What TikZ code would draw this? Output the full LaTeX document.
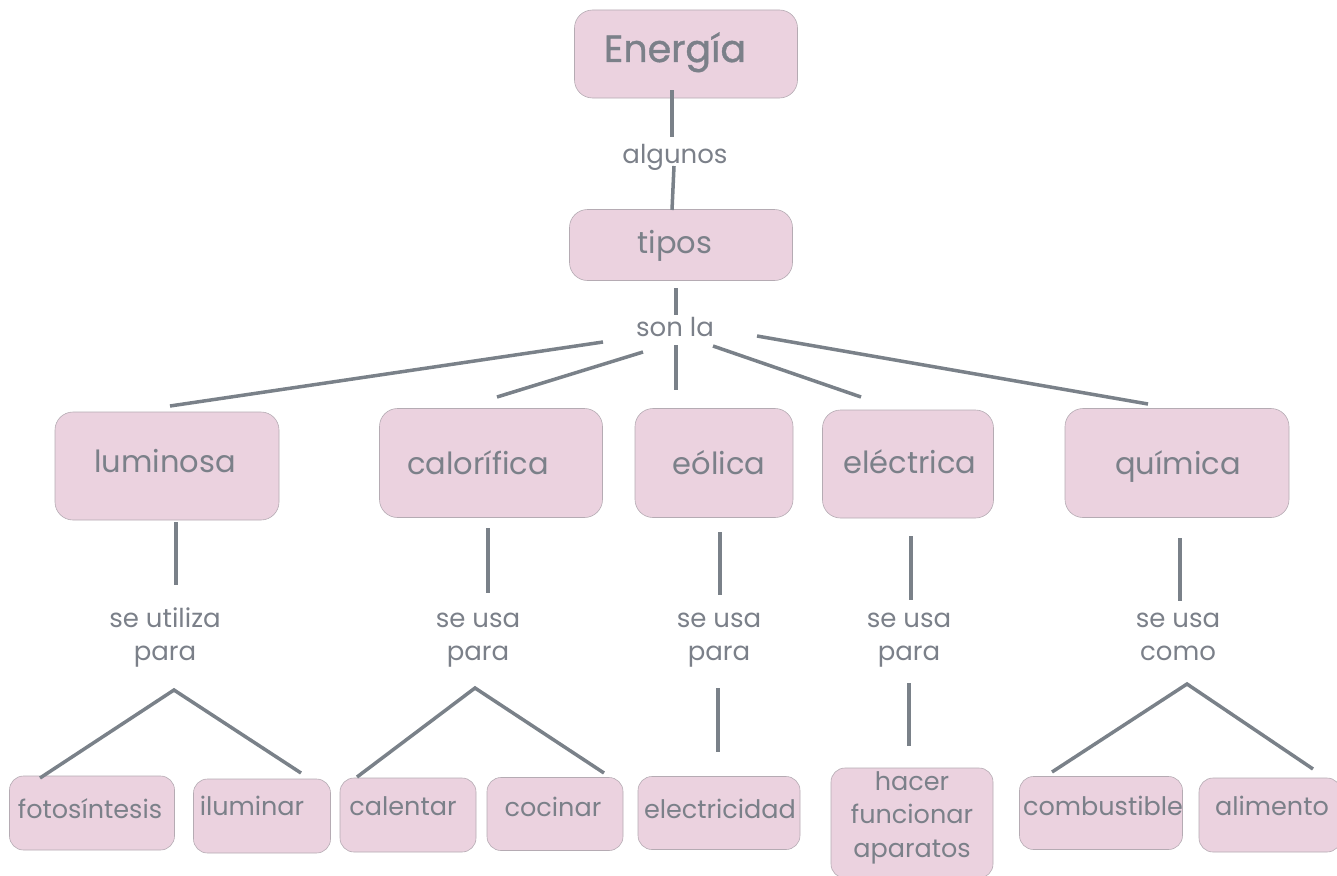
\documentclass[tikz,border=0pt]{standalone}
\usepackage{fontspec}
\setmainfont{Poppins}
\newfontfamily\titlefont[FakeBold=1]{Poppins}
\definecolor{boxfill}{HTML}{EBD2DF}
\definecolor{boxline}{HTML}{B5ABB3}
\definecolor{txt}{HTML}{7B8089}
\definecolor{ln}{HTML}{7A8189}
\begin{document}
\begin{tikzpicture}[x=1pt,y=-1pt,
 box/.style={draw=boxline, line width=0.6pt, fill=boxfill, rounded corners=18pt, inner sep=0pt},
 sbox/.style={box, rounded corners=14pt},
 btext/.style={text=txt, font=\fontsize{30.5}{36}\selectfont, inner sep=0pt, anchor=base, align=center},
 ltext/.style={text=txt, font=\fontsize{26}{33}\selectfont, inner sep=0pt, anchor=base, align=center},
 stext/.style={text=txt, font=\fontsize{25.5}{33.5}\selectfont, inner sep=0pt, anchor=base, align=center},
 conn/.style={draw=ln, line width=3.5pt}]
\useasboundingbox (0,0) rectangle (1337,875);

% boxes
\node[box, minimum width=223pt, minimum height=88pt] (en) at (686,54) {};
\node[box, minimum width=223pt, minimum height=71pt] (ti) at (681,245) {};
\node[box, minimum width=224pt, minimum height=108pt] (lum) at (167,466) {};
\node[box, minimum width=223pt, minimum height=109pt] (cal) at (491,463) {};
\node[box, minimum width=158pt, minimum height=109pt] (eol) at (714,463) {};
\node[box, minimum width=171pt, minimum height=108pt] (ele) at (908,464) {};
\node[box, minimum width=224pt, minimum height=109pt] (qui) at (1177,463) {};
\node[sbox, minimum width=165pt, minimum height=74pt] (fot) at (92,813) {};
\node[sbox, minimum width=137pt, minimum height=74pt] (ilu) at (262,816) {};
\node[sbox, minimum width=136pt, minimum height=74pt] (calen) at (408,815) {};
\node[sbox, minimum width=136pt, minimum height=73pt] (coc) at (555,814) {};
\node[sbox, minimum width=162pt, minimum height=73pt] (elec) at (719,813) {};
\node[sbox, minimum width=162pt, minimum height=110pt] (hac) at (912,823) {};
\node[sbox, minimum width=163pt, minimum height=73pt] (comb) at (1101,813) {};
\node[sbox, minimum width=142pt, minimum height=74pt] (ali) at (1270,815) {};

% box texts
\node[text=txt, font=\titlefont\fontsize{38}{42}\selectfont, inner sep=0pt, anchor=base] (enT) at (675,62) {Energía};
\node[btext] (tiT) at (675,253) {tipos};
\node[btext] (lumT) at (165,472) {luminosa};
\node[btext] (calT) at (478,474) {calorífica};
\node[btext] (eolT) at (719,474) {eólica};
\node[btext] (eleT) at (910,473) {eléctrica};
\node[btext] (quiT) at (1178,474) {química};
\node[stext] (fotT) at (90,818) {fotosíntesis};
\node[stext] (iluT) at (252,815) {iluminar};
\node[stext] (calenT) at (403,815) {calentar};
\node[stext] (cocT) at (553,816) {cocinar};
\node[stext] (elecT) at (720,818) {electricidad};
\node[stext] (hacT) at (912,857) {hacer\\funcionar\\aparatos};
\node[stext] (combT) at (1103,815) {combustible};
\node[stext] (aliT) at (1272,815) {alimento};

% link labels
\node[ltext] (l0) at (675,163) {algunos};
\node[ltext] (l1) at (675,336) {son la};
\node[ltext] (l2) at (165,660) {se utiliza\\para};
\node[ltext] (l3) at (478,660) {se usa\\para};
\node[ltext] (l4) at (719,660) {se usa\\para};
\node[ltext] (l5) at (909,660) {se usa\\para};
\node[ltext] (l6) at (1178,660) {se usa\\como};

% connector end points
\coordinate (p0a) at (672,90);  \coordinate (p0b) at (672,137);
\coordinate (p1a) at (674,166); \coordinate (p1b) at (672,210);
\coordinate (p2a) at (676,288); \coordinate (p2b) at (676,315);
\coordinate (s1) at (603,342); \coordinate (e1) at (170,406);
\coordinate (s2) at (643,352); \coordinate (e2) at (497,397);
\coordinate (s3) at (676,345); \coordinate (e3) at (676,390);
\coordinate (s4) at (713,346); \coordinate (e4) at (861,397);
\coordinate (s5) at (757,336); \coordinate (e5) at (1148,404);
\coordinate (v1a) at (176,522);  \coordinate (v1b) at (176,585);
\coordinate (v2a) at (488,528);  \coordinate (v2b) at (488,593);
\coordinate (v3a) at (720,532);  \coordinate (v3b) at (720,595);
\coordinate (v4a) at (911,536);  \coordinate (v4b) at (911,600);
\coordinate (v5a) at (1180,538); \coordinate (v5b) at (1180,601);
\coordinate (ap1) at (174,690); \coordinate (f1) at (40,778);  \coordinate (f2) at (301,773);
\coordinate (ap2) at (475,688); \coordinate (f3) at (357,777); \coordinate (f4) at (604,773);
\coordinate (w1a) at (718,688); \coordinate (w1b) at (718,752);
\coordinate (w2a) at (909,683); \coordinate (w2b) at (909,746);
\coordinate (ap5) at (1187,684); \coordinate (f5) at (1052,772); \coordinate (f6) at (1313,769);

% connectors
\draw[conn] (p0a) -- (p0b);
\draw[conn] (p1a) -- (p1b);
\draw[conn] (p2a) -- (p2b);
\draw[conn] (s1) -- (e1);
\draw[conn] (s2) -- (e2);
\draw[conn] (s3) -- (e3);
\draw[conn] (s4) -- (e4);
\draw[conn] (s5) -- (e5);
\draw[conn] (v1a) -- (v1b);
\draw[conn] (v2a) -- (v2b);
\draw[conn] (v3a) -- (v3b);
\draw[conn] (v4a) -- (v4b);
\draw[conn] (v5a) -- (v5b);
\draw[conn] (f1) -- (ap1) -- (f2);
\draw[conn] (f3) -- (ap2) -- (f4);
\draw[conn] (w1a) -- (w1b);
\draw[conn] (w2a) -- (w2b);
\draw[conn] (f5) -- (ap5) -- (f6);
\end{tikzpicture}
\end{document}
